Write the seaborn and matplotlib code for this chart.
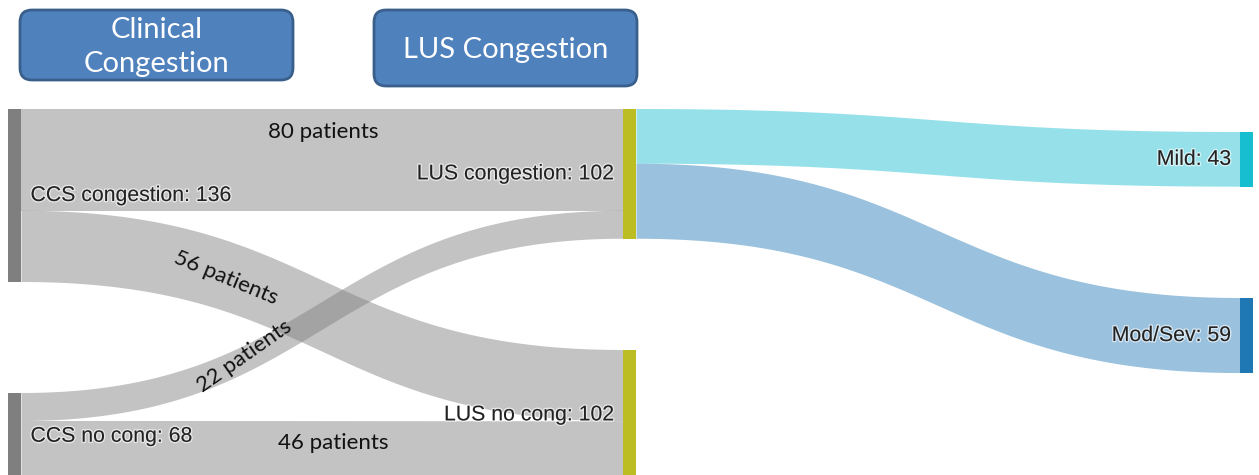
import numpy as np
import seaborn as sns
import matplotlib
matplotlib.use("Agg")
import matplotlib.pyplot as plt
from matplotlib.patches import Rectangle, FancyBboxPatch, Polygon
import matplotlib.patheffects as pe

# ---------------- data ----------------
nodes = ["CCS congestion", "CCS no cong", "LUS congestion", "LUS no cong", "Mild", "Mod/Sev"]
node_values = [136, 68, 102, 102, 43, 59]
node_column = [0, 0, 1, 1, 2, 2]
link_source = ["CCS congestion", "CCS congestion", "CCS no cong", "CCS no cong",
               "LUS congestion", "LUS congestion"]
link_target = ["LUS congestion", "LUS no cong", "LUS congestion", "LUS no cong",
               "Mild", "Mod/Sev"]
link_values = [80, 56, 22, 46, 43, 59]
link_labels = ["80 patients", "56 patients", "22 patients", "46 patients", None, None]
headers = ["Clinical\nCongestion", "LUS Congestion"]

# ---------------- style / layout ----------------
sns.set_theme(style="white")
pal = sns.color_palette("tab10")
node_colors = [pal[7], pal[7], pal[8], pal[8], pal[9], pal[0]]
link_colors = [(0.5, 0.5, 0.5, 0.47)] * 4 + [(*pal[9], 0.45), (*pal[0], 0.45)]

W, H = 1259, 475
scale = 1.272                      # pixels per patient
col_x = [8, 623, 1240]             # left edge of each node column
node_w = 13.5
node_top = [109, 393, 109, 350, 132, 298]
label_font = ["Liberation Sans", "DejaVu Sans"]
note_font = ["Lato", "DejaVu Sans"]

fig = plt.figure(figsize=(W / 100, H / 100), dpi=100)
ax = fig.add_axes([0, 0, 1, 1])
ax.set_xlim(0, W)
ax.set_ylim(H, 0)
ax.axis("off")

idx = {n: i for i, n in enumerate(nodes)}
out_off = [0.0] * len(nodes)
in_off = [0.0] * len(nodes)


def bez(p0, p1, p2, p3, t):
    return ((1 - t) ** 3)[:, None] * p0 + (3 * (1 - t) ** 2 * t)[:, None] * p1 + \
        (3 * (1 - t) * t ** 2)[:, None] * p2 + (t ** 3)[:, None] * p3


t = np.linspace(0, 1, 120)
for s, d, v, c in zip(link_source, link_target, link_values, link_colors):
    si, di = idx[s], idx[d]
    h = v * scale
    x0 = col_x[node_column[si]] + node_w
    x1 = col_x[node_column[di]]
    y0 = node_top[si] + out_off[si] * scale
    y1 = node_top[di] + in_off[di] * scale
    out_off[si] += v
    in_off[di] += v
    xm = (x0 + x1) / 2
    top = bez(np.array([x0, y0]), np.array([xm, y0]), np.array([xm, y1]), np.array([x1, y1]), t)
    bot = bez(np.array([x0, y0 + h]), np.array([xm, y0 + h]), np.array([xm, y1 + h]),
              np.array([x1, y1 + h]), t)
    ax.add_patch(Polygon(np.vstack([top, bot[::-1]]), closed=True, facecolor=c,
                         edgecolor="none", zorder=1))

halo = [pe.withStroke(linewidth=2, foreground=(1, 1, 1, 0.6))]
for i, (n, v) in enumerate(zip(nodes, node_values)):
    x = col_x[node_column[i]]
    y = node_top[i]
    ax.add_patch(Rectangle((x, y), node_w, v * scale, facecolor=node_colors[i],
                           edgecolor="none", zorder=2))
    yc = y + v * scale / 2
    if node_column[i] == 0:
        ax.text(x + node_w + 9, yc, f"{n}: {v}", ha="left", va="center", fontsize=15.3,
                family=label_font, color="#222222", zorder=4, path_effects=halo)
    else:
        ax.text(x - 9, yc, f"{n}: {v}", ha="right", va="center", fontsize=15.3,
                family=label_font, color="#222222", zorder=4, path_effects=halo)

# link annotations
note_pos = [(323, 132, 0), (226, 278, -22.5), (244, 356, 35), (333, 443, 0)]
for lab, (x, y, r) in zip(link_labels, note_pos):
    if lab:
        ax.text(x, y, lab, ha="center", va="center", rotation=r, rotation_mode="anchor",
                fontsize=16, family=note_font, color="#111111", zorder=5)

# header boxes
boxes = [(20, 10, 273, 70), (374, 10, 263, 76)]
for txt, (bx, by, bw, bh) in zip(headers, boxes):
    ax.add_patch(FancyBboxPatch((bx, by), bw, bh, boxstyle="round,pad=0,rounding_size=12",
                                facecolor="#4f81bd", edgecolor="#3a5f8b", linewidth=2, zorder=3))
    ax.text(bx + bw / 2, by + bh / 2 + 2, txt, ha="center", va="center", fontsize=21,
            family=note_font, color="white", linespacing=1.4, zorder=4)

fig.savefig("out.png", dpi=100)
